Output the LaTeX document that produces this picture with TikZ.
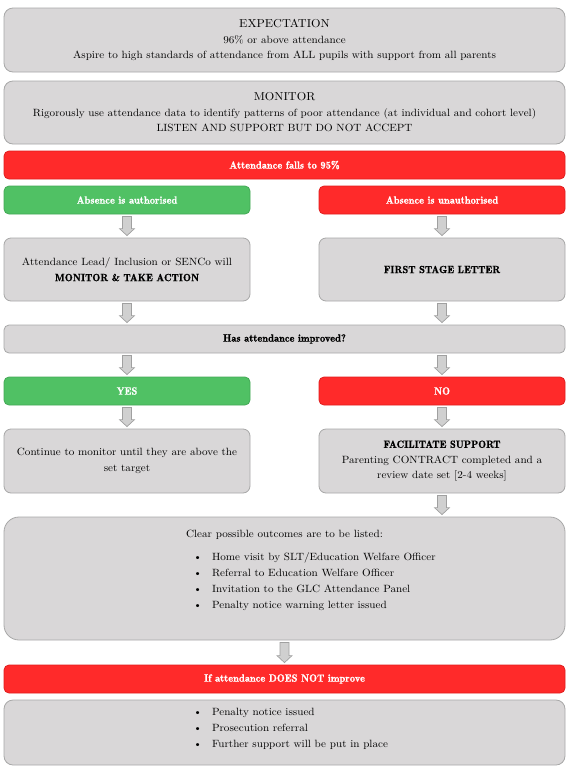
\documentclass[tikz,border=0pt]{standalone}
\usepackage{fontspec}
\setmainfont{lmroman10-regular.otf}[FakeStretch=1.06, BoldFont=lmromandemi10-regular.otf, BoldFeatures={FakeStretch=1.0, FakeBold=0.5}]
\usetikzlibrary{calc}
\definecolor{boxfill}{HTML}{D9D7D8}
\definecolor{boxline}{HTML}{A8A8A8}
\definecolor{redfill}{HTML}{FF2A2A}
\definecolor{redline}{HTML}{E01E1E}
\definecolor{greenfill}{HTML}{50C164}
\definecolor{greenline}{HTML}{44A856}
\definecolor{arrowfill}{HTML}{D0D0D0}
\definecolor{arrowline}{HTML}{A0A0A0}
% block arrow pointing down, from #1.south to #2.north (x taken from #1)
\newcommand\blockarrow[2]{%
  \path[draw=arrowline, fill=arrowfill, line width=0.7pt]
    let \p1=(#1.south), \p2=(#2.north) in
    ({\x1-4.5pt},{\y1-2pt}) -- ({\x1+4.5pt},{\y1-2pt}) -- ({\x1+4.5pt},{\y2+9pt})
    -- ({\x1+7.5pt},{\y2+9pt}) -- ({\x1},{\y2+2pt}) -- ({\x1-7.5pt},{\y2+9pt})
    -- ({\x1-4.5pt},{\y2+9pt}) -- cycle;}
% block arrow pointing down, from #1.south to #2.north (x taken from #2)
\newcommand\blockarrowto[2]{%
  \path[draw=arrowline, fill=arrowfill, line width=0.7pt]
    let \p1=(#2.north), \p2=(#1.south) in
    ({\x1-4.5pt},{\y2-2pt}) -- ({\x1+4.5pt},{\y2-2pt}) -- ({\x1+4.5pt},{\y1+9pt})
    -- ({\x1+7.5pt},{\y1+9pt}) -- ({\x1},{\y1+2pt}) -- ({\x1-7.5pt},{\y1+9pt})
    -- ({\x1-4.5pt},{\y1+9pt}) -- cycle;}
\begin{document}
\begin{tikzpicture}[x=1pt,y=-1pt,
  base/.style={draw, line width=0.8pt, inner sep=0pt, align=center,
    font=\fontsize{10.5}{15.5}\selectfont},
  graybox/.style={base, fill=boxfill, draw=boxline, rounded corners=7pt},
  redbar/.style={base, fill=redfill, draw=redline, rounded corners=5pt,
    text=white, font=\fontsize{10.5}{15.5}\selectfont\bfseries},
  greenbar/.style={base, fill=greenfill, draw=greenline, rounded corners=5pt,
    text=white, font=\fontsize{10.5}{15.5}\selectfont\bfseries},
  full/.style={minimum width=561pt},
  half/.style={minimum width=246pt},
  bar/.style={minimum height=28pt},
  listtext/.style={base, draw=none, align=left, anchor=north west,
    font=\fontsize{10.5}{16}\selectfont}
]
\useasboundingbox (0,0) rectangle (570,774);
\fill[white] (0,0) rectangle (570,774);

\node[graybox, full, minimum height=64pt, rounded corners=9pt] (exp) at (284.5,40)
  {{\fontsize{11.5}{15}\selectfont EXPECTATION}\\96\% or above attendance\\
   Aspire to high standards of attendance from ALL pupils with support from all parents};
\node[graybox, full, minimum height=63pt, rounded corners=9pt] (mon) at (284.5,112.5)
  {{\fontsize{11.5}{15}\selectfont MONITOR}\\Rigorously use attendance data to identify patterns of poor attendance (at individual and cohort level)\\
   LISTEN AND SUPPORT BUT DO NOT ACCEPT};
\node[redbar, full, bar] (fall) at (284.5,165) {Attendance falls to 95\%};
\node[greenbar, half, bar] (auth) at (127,200) {Absence is authorised};
\node[redbar, half, bar] (unauth) at (442,200) {Absence is unauthorised};
\node[graybox, half, minimum height=63pt] (lead) at (127,269.5)
  {Attendance Lead/ Inclusion or SENCo will\\\textbf{MONITOR \& TAKE ACTION}};
\node[graybox, half, minimum height=63pt] (letter) at (442,269.5) {\textbf{FIRST STAGE LETTER}};
\node[graybox, full, bar, rounded corners=5pt] (improved) at (284.5,339) {\textbf{Has attendance improved?}};
\node[greenbar, half, bar] (yes) at (127,391) {YES};
\node[redbar, half, bar] (no) at (442,391) {NO};
\node[graybox, half, minimum height=64pt] (cont) at (127,461)
  {Continue to monitor until they are above the\\set target};
\node[graybox, half, minimum height=64pt] (facil) at (442,461)
  {\textbf{FACILITATE SUPPORT}\\Parenting CONTRACT completed and a\\review date set [2-4 weeks]};
\node[graybox, full, minimum height=123pt, rounded corners=15pt] (outcomes) at (284.5,578.5) {};
\node[base, draw=none] (outhead) at (284.5,535) {Clear possible outcomes are to be listed:};
\node[listtext] (outlist) at (193,552)
  {\textbullet\hspace{10pt}Home visit by SLT/Education Welfare Officer\\
   \textbullet\hspace{10pt}Referral to Education Welfare Officer\\
   \textbullet\hspace{10pt}Invitation to the GLC Attendance Panel\\
   \textbullet\hspace{10pt}Penalty notice warning letter issued};
\node[redbar, full, bar] (notimp) at (284.5,679) {If attendance DOES NOT improve};
\node[graybox, full, minimum height=65pt, rounded corners=9pt] (final) at (284.5,732.5) {};
\node[listtext] (finallist) at (193,708)
  {\textbullet\hspace{10pt}Penalty notice issued\\
   \textbullet\hspace{10pt}Prosecution referral\\
   \textbullet\hspace{10pt}Further support will be put in place};

\blockarrow{auth}{lead}
\blockarrow{unauth}{letter}
\blockarrow{lead}{improved}
\blockarrow{letter}{improved}
\blockarrowto{improved}{yes}
\blockarrowto{improved}{no}
\blockarrow{yes}{cont}
\blockarrow{no}{facil}
\blockarrow{facil}{outcomes}
\blockarrow{outcomes}{notimp}
\end{tikzpicture}
\end{document}
